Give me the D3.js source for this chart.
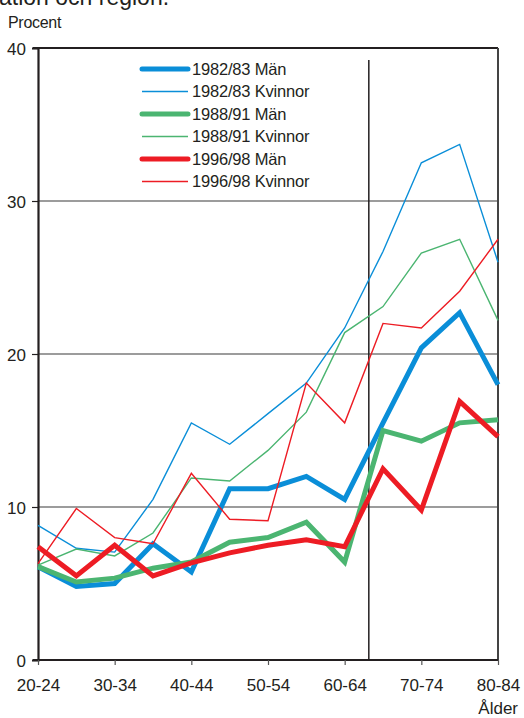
<!DOCTYPE html>
<html>
<head>
<meta charset="utf-8">
<script src="https://cdn.jsdelivr.net/npm/d3@7/dist/d3.min.js"></script>
<style>
  html, body { margin: 0; padding: 0; background: #fff; }
  svg { display: block; }
  text { font-family: "Liberation Sans", Arial, Helvetica, sans-serif; fill: #231f20; }
</style>
</head>
<body>
<svg id="chart" width="524" height="718"></svg>
<script>
// ---- data ----
const categories = ["20-24","25-29","30-34","35-39","40-44","45-49","50-54","55-59","60-64","65-69","70-74","75-79","80-84"];
const xTickLabels = ["20-24","30-34","40-44","50-54","60-64","70-74","80-84"];
const yTicks = [0, 10, 20, 30, 40];

const man8283      = [6.1, 4.8, 5.0, 7.6, 5.75, 11.2, 11.2, 12.0, 10.5, 15.5, 20.4, 22.7, 18.0];
const kvinnor8283  = [8.8, 7.3, 7.05, 10.5, 15.5, 14.1, 16.1, 18.1, 21.7, 26.7, 32.5, 33.7, 26.0];
const man8891      = [6.1, 5.1, 5.35, 6.0, 6.4, 7.7, 8.0, 9.0, 6.4, 15.0, 14.3, 15.5, 15.7];
const kvinnor8891  = [6.2, 7.25, 6.8, 8.3, 11.9, 11.7, 13.7, 16.2, 21.4, 23.1, 26.6, 27.5, 22.2];
const man9698      = [7.4, 5.5, 7.5, 5.5, 6.35, 7.0, 7.5, 7.85, 7.4, 12.5, 9.8, 16.9, 14.6];
const kvinnor9698  = [6.3, 9.9, 8.0, 7.6, 12.2, 9.2, 9.1, 18.1, 15.5, 22.0, 21.7, 24.1, 27.5];

const seriesNames = ["1982/83 Män","1982/83 Kvinnor","1988/91 Män","1988/91 Kvinnor","1996/98 Män","1996/98 Kvinnor"];
const seriesValues = [man8283, kvinnor8283, man8891, kvinnor8891, man9698, kvinnor9698];
const seriesColors = ["#0a8ed8","#0a8ed8","#4bb571","#4bb571","#ed1c24","#ed1c24"];
const seriesWidths = [5, 1.4, 5, 1.4, 5, 1.4];

const titleText = "ation och region.";
const yAxisTitle = "Procent";
const xAxisTitle = "Ålder";

(function draw() {
  const svg = d3.select("#chart");
  const mLeft = 38, mRight = 498, mTop = 48, mBottom = 660;
  const x = d3.scalePoint().domain(categories).range([mLeft, mRight]);
  const y = d3.scaleLinear().domain([0, 40]).range([mBottom, mTop]);
  const ink = "#231f20";

  // cut-off title
  svg.append("text").attr("x", -1).attr("y", 5)
    .style("font-size", "23px").text(titleText);

  svg.append("text").attr("x", 8).attr("y", 28)
    .style("font-size", "16px").style("letter-spacing", "-0.3px").text(yAxisTitle);

  // gridlines
  svg.append("g").selectAll("line").data(yTicks.filter(d => d > 0 && d < 40)).join("line")
    .attr("x1", mLeft).attr("x2", mRight)
    .attr("y1", d => y(d)).attr("y2", d => y(d))
    .attr("stroke", "#3a3a3a").attr("stroke-width", 1.2);

  // top border
  svg.append("line").attr("x1", mLeft - 5).attr("x2", mRight)
    .attr("y1", y(40)).attr("y2", y(40)).attr("stroke", ink).attr("stroke-width", 2);
  // right border
  svg.append("line").attr("x1", mRight).attr("x2", mRight)
    .attr("y1", y(40)).attr("y2", y(0)).attr("stroke", "#444").attr("stroke-width", 2);

  // divider line between 60-64 and 65-69
  const dividerX = x("60-64") + 0.63 * x.step();
  svg.append("line").attr("x1", dividerX).attr("x2", dividerX)
    .attr("y1", 60).attr("y2", y(0)).attr("stroke", ink).attr("stroke-width", 1.5);

  // y axis
  const yAxis = d3.axisLeft(y).tickValues(yTicks).tickSize(6).tickPadding(6).tickFormat(d3.format("d"));
  const gy = svg.append("g").attr("transform", `translate(${mLeft},0)`).call(yAxis);
  gy.select(".domain").attr("stroke", ink).attr("stroke-width", 2.2);
  gy.selectAll(".tick line").attr("stroke", ink).attr("stroke-width", 1.2);
  gy.selectAll(".tick text").style("font-size", "17px").style("font-family", "Liberation Sans, Arial, sans-serif")
    .attr("fill", ink).attr("dy", "0.36em");

  // x axis
  const xAxis = d3.axisBottom(x).tickValues(xTickLabels).tickSize(5).tickPadding(14);
  const gx = svg.append("g").attr("transform", `translate(0,${mBottom})`).call(xAxis);
  gx.select(".domain").attr("stroke", ink).attr("stroke-width", 2).attr("d", `M${mLeft - 5},0H${mRight}`);
  gx.selectAll(".tick line").attr("stroke", "#555").attr("stroke-width", 1.2);
  gx.selectAll(".tick text").style("font-size", "17px").style("font-family", "Liberation Sans, Arial, sans-serif")
    .attr("fill", ink);

  svg.append("text").attr("x", 518).attr("y", 714).attr("text-anchor", "end")
    .style("font-size", "17px").text(xAxisTitle);

  // lines
  const line = d3.line().x((d, i) => x(categories[i])).y(d => y(d)).curve(d3.curveLinear);
  const plot = svg.append("g");
  seriesValues.forEach((vals, k) => {
    plot.append("path").datum(vals)
      .attr("d", line)
      .attr("fill", "none")
      .attr("stroke", seriesColors[k])
      .attr("stroke-width", seriesWidths[k])
      .attr("stroke-linejoin", "miter")
      .attr("stroke-miterlimit", 3);
  });

  // legend
  const legend = svg.append("g").attr("transform", "translate(142,69)");
  seriesNames.forEach((name, k) => {
    const g = legend.append("g").attr("transform", `translate(0,${k * 22.5})`);
    g.append("line").attr("x1", 0).attr("x2", 46).attr("y1", 0).attr("y2", 0)
      .attr("stroke", seriesColors[k]).attr("stroke-width", seriesWidths[k])
      .attr("stroke-linecap", seriesWidths[k] > 2 ? "round" : "butt");
    g.append("text").attr("x", 50).attr("y", 0).attr("dy", "0.36em")
      .style("font-size", "16.5px").style("letter-spacing", "-0.2px").text(name);
  });
})();
</script>
</body>
</html>
